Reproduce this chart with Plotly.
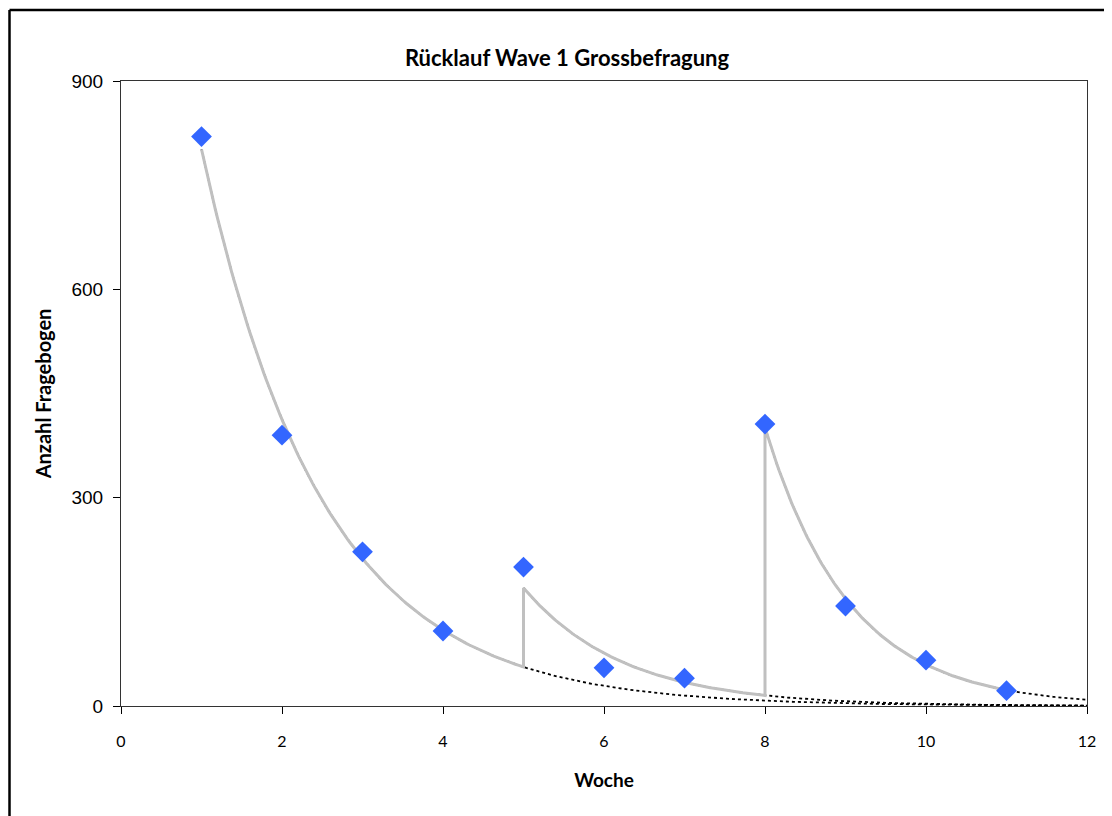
import numpy as np
import plotly.graph_objects as go

# Data: weekly returns (Woche -> Anzahl Fragebogen)
weeks = [1, 2, 3, 4, 5, 6, 7, 8, 9, 10, 11]
returns = [820, 390, 222, 108, 200, 55, 40, 406, 144, 66, 22]

# Waves (segments) for exponential trendlines: start week, end week
segment_starts = [1, 5, 8]
segment_ends = [4, 7, 11]
curve_ends = [5, 8, 11]
forecast_end = 12

x_ticks = [0, 2, 4, 6, 8, 10, 12]
y_ticks = [0, 300, 600, 900]

title = "Rücklauf Wave 1 Grossbefragung"
x_title = "Woche"
y_title = "Anzahl Fragebogen"

wk = np.array(weeks, dtype=float)
rv = np.array(returns, dtype=float)

fits = []
for s, e in zip(segment_starts, segment_ends):
    m = (wk >= s) & (wk <= e)
    b, a = np.polyfit(wk[m], np.log(rv[m]), 1)
    fits.append((a, b))

fig = go.Figure()

# dotted exponential trendlines (forecast to week 12)
for (a, b), s in zip(fits, segment_starts):
    xs = np.linspace(s, forecast_end, 200)
    fig.add_trace(go.Scatter(x=xs, y=np.exp(a + b * xs), mode="lines",
                             line=dict(color="black", width=1.8, dash="3px,3px"),
                             hoverinfo="skip", showlegend=False))

# grey model curve (piecewise, with jumps at new waves)
gx, gy = [], []
for (a, b), s, e in zip(fits, segment_starts, curve_ends):
    xs = np.linspace(s, e, 120)
    gx.extend(xs.tolist())
    gy.extend(np.exp(a + b * xs).tolist())
fig.add_trace(go.Scatter(x=gx, y=gy, mode="lines",
                         line=dict(color="#C0C0C0", width=3),
                         hoverinfo="skip", showlegend=False))

fig.add_trace(go.Scatter(x=weeks, y=returns, mode="markers",
                         marker=dict(symbol="diamond", size=16, color="#3366FF",
                                     line=dict(width=0)),
                         showlegend=False))

OFF = 8  # page body margin
W, H = 1112 - OFF, 816 - OFF
L, R, T, B = 121 - OFF, 25, 81 - OFF, 110
pw, ph = W - L - R, H - T - B

def px_x(X):
    return (X - OFF - L) / pw

def px_y(Y):
    return (H - B - (Y - OFF)) / ph

fig.update_layout(
    width=W, height=H,
    margin=dict(l=L, r=R, t=T, b=B),
    paper_bgcolor="white", plot_bgcolor="white",
    title=dict(text=title, x=(567 - OFF) / W, xref="container", xanchor="center",
               y=1 - (58 - OFF) / H, yref="container", yanchor="middle",
               font=dict(family="Lato", size=22, color="black", weight="bold")),
    xaxis=dict(range=[0, 12], tickvals=x_ticks, ticks="outside", ticklen=7,
               tickcolor="black", showline=True, linecolor="#333333", linewidth=1,
               mirror=True, showgrid=False, zeroline=False,
               tickfont=dict(family="Lato", size=16, color="black"),
               ticklabelstandoff=14,
               title=dict(text=x_title, standoff=24,
                          font=dict(family="Lato", size=19, color="black", weight="bold"))),
    yaxis=dict(range=[0, 900], tickvals=y_ticks, ticks="outside", ticklen=7,
               tickcolor="black", showline=True, linecolor="#333333", linewidth=1,
               mirror=True, showgrid=False, zeroline=False,
               tickfont=dict(family="Liberation Sans", size=19, color="black"),
               ticklabelstandoff=6,
               title=dict(text=y_title, standoff=14,
                          font=dict(family="Lato", size=20, color="black", weight="bold"))),
    shapes=[
        dict(type="line", xref="paper", yref="paper", x0=px_x(9.5), x1=px_x(9.5),
             y0=px_y(830), y1=px_y(10), line=dict(color="black", width=2.5)),
        dict(type="line", xref="paper", yref="paper", x0=px_x(9.5), x1=px_x(1130),
             y0=px_y(10), y1=px_y(10), line=dict(color="black", width=2.5)),
    ],
)

fig.write_html("out.html")
